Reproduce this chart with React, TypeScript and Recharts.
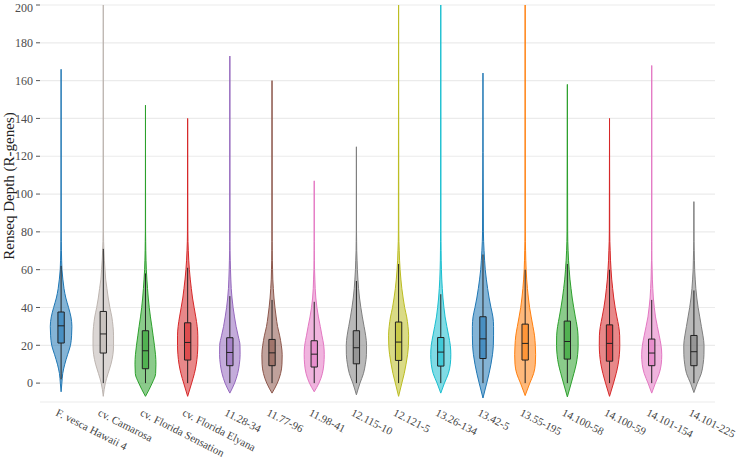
import React from "react";
import { Area, CartesianGrid, ComposedChart, ReferenceArea, ReferenceLine, XAxis, YAxis } from "recharts";

const categories = [
  "F. vesca Hawaii 4",
  "cv. Camarosa",
  "cv. Florida Sensation",
  "cv. Florida Elyana",
  "11.28-34",
  "11.77-96",
  "11.98-41",
  "12.115-10",
  "12.121-5",
  "13.26-134",
  "13.42-5",
  "13.55-195",
  "14.100-58",
  "14.100-59",
  "14.101-154",
  "14.101-225",
];

const colors = [
  "#1f77b4", "#bdb5b0", "#2ca02c", "#d62728", "#9467bd", "#8c564b", "#e377c2", "#7f7f7f",
  "#bcbd22", "#17becf", "#1f77b4", "#ff7f0e", "#2ca02c", "#d62728", "#e377c2", "#7f7f7f",
];

// box stats
const q1 = [21.2, 15.9, 7.6, 12.2, 9.2, 9.2, 8.5, 10.2, 12, 9, 13, 12.2, 12.7, 11.6, 9.2, 9.2];
const medians = [30.3, 26, 17.1, 21.5, 16.2, 16, 15.3, 18.7, 21.7, 16.4, 23.4, 21, 22, 21, 15.9, 16.6];
const q3 = [37.6, 37.9, 27.7, 31.9, 24, 23.1, 22.4, 27.7, 32.3, 24.1, 35.1, 31.2, 32.8, 30.8, 23.3, 25.2];
const whiskerLow = [2, 0, 0, 0, 0, 0, 0, 0, 0, 0, 0, 0, 0, 0, 0, 0];
const whiskerHigh = [62, 71, 58, 61, 46, 44, 43, 54, 63, 47, 68, 60, 63, 60, 44, 49];

// violin extent
const minValues = [-4.6, -7, -7, -7, -5.3, -5.3, -4.6, -6.2, -7, -5.3, -7.9, -6.6, -7.3, -7, -5.3, -5];
const maxValues = [166, 200, 147, 140, 173, 160, 107, 125, 200, 200, 164, 200, 158, 140, 168, 96];

// relative density at each depth
const depthGrid = [0, 5, 10, 15, 20, 25, 30, 35, 40, 45, 50, 55, 60, 65, 70, 75, 80];
const densities = [
  [0.07, 0.15, 0.34, 0.6, 0.87, 0.97, 1.0, 0.91, 0.69, 0.44, 0.27, 0.16, 0.08, 0.05, 0.03, 0.02, 0.01],
  [0.19, 0.44, 0.71, 0.89, 0.95, 0.95, 0.9, 0.79, 0.61, 0.46, 0.34, 0.22, 0.16, 0.1, 0.06, 0.03, 0.02],
  [0.62, 0.94, 0.97, 0.93, 0.83, 0.71, 0.59, 0.46, 0.35, 0.26, 0.19, 0.13, 0.08, 0.05, 0.03, 0.02, 0.01],
  [0.37, 0.62, 0.8, 0.9, 0.94, 0.94, 0.88, 0.75, 0.6, 0.45, 0.34, 0.24, 0.16, 0.1, 0.06, 0.03, 0.02],
  [0.44, 0.72, 0.88, 0.95, 0.94, 0.77, 0.58, 0.43, 0.3, 0.2, 0.13, 0.09, 0.06, 0.04, 0.02, 0.01, 0.01],
  [0.49, 0.79, 0.92, 0.94, 0.86, 0.71, 0.51, 0.38, 0.27, 0.18, 0.12, 0.07, 0.05, 0.03, 0.02, 0.01, 0.01],
  [0.44, 0.75, 0.89, 0.93, 0.88, 0.72, 0.56, 0.39, 0.25, 0.15, 0.09, 0.06, 0.03, 0.02, 0.01, 0.0, 0.0],
  [0.33, 0.65, 0.83, 0.93, 0.94, 0.86, 0.71, 0.55, 0.41, 0.29, 0.2, 0.14, 0.09, 0.06, 0.03, 0.02, 0.01],
  [0.3, 0.52, 0.69, 0.83, 0.91, 0.93, 0.87, 0.75, 0.56, 0.42, 0.3, 0.21, 0.14, 0.09, 0.06, 0.03, 0.02],
  [0.34, 0.7, 0.88, 0.93, 0.88, 0.73, 0.56, 0.4, 0.29, 0.2, 0.14, 0.09, 0.06, 0.04, 0.03, 0.02, 0.01],
  [0.35, 0.56, 0.74, 0.88, 0.96, 0.98, 0.98, 0.92, 0.74, 0.57, 0.43, 0.31, 0.21, 0.15, 0.1, 0.06, 0.04],
  [0.43, 0.78, 0.94, 0.97, 0.94, 0.87, 0.72, 0.56, 0.41, 0.3, 0.21, 0.14, 0.09, 0.06, 0.04, 0.02, 0.01],
  [0.36, 0.6, 0.82, 0.95, 1.0, 0.99, 0.9, 0.74, 0.59, 0.45, 0.34, 0.24, 0.17, 0.11, 0.07, 0.04, 0.03],
  [0.37, 0.61, 0.8, 0.91, 0.95, 0.94, 0.85, 0.68, 0.52, 0.39, 0.29, 0.2, 0.14, 0.09, 0.06, 0.03, 0.02],
  [0.34, 0.69, 0.88, 0.93, 0.86, 0.7, 0.52, 0.35, 0.24, 0.15, 0.1, 0.06, 0.04, 0.02, 0.01, 0.01, 0.0],
  [0.31, 0.68, 0.85, 0.93, 0.94, 0.84, 0.69, 0.54, 0.39, 0.27, 0.18, 0.12, 0.07, 0.05, 0.03, 0.01, 0.01],
];

const yTicks = [0, 20, 40, 60, 80, 100, 120, 140, 160, 180, 200];

const VIOLIN_HALF = 0.256;
const BOX_HALF = 0.075;
const FONT = "'Liberation Serif', 'DejaVu Serif', serif";

const violins = categories.map((_, i) => {
  const c = i + 0.5;
  const pts = [{ v: minValues[i], r: [c, c] }];
  depthGrid.forEach((v, j) => {
    const w = densities[i][j] * VIOLIN_HALF;
    pts.push({ v, r: [c - w, c + w] });
  });
  pts.push({ v: maxValues[i], r: [c, c] });
  return pts;
});

const CategoryTick = (props: any) => {
  const { x, y, payload } = props;
  const label = categories[Math.round(payload.value - 0.5)];
  return (
    <g transform={`translate(${x - 6},${y + 13})`}>
      <text transform="rotate(27)" textAnchor="start" fontSize={11} fill="#444" fontFamily={FONT}>
        {label}
      </text>
    </g>
  );
};

export default function App() {
  return (
    <div style={{ position: "absolute", left: 0, top: 0 }}>
      <ComposedChart
        width={739}
        height={461}
        layout="vertical"
        margin={{ top: 5, right: 24, bottom: 0, left: 0 }}
      >
        <CartesianGrid vertical={false} stroke="#ebebeb" strokeWidth={1.2} />
        <XAxis
          type="number"
          domain={[0, 16]}
          ticks={categories.map((_, i) => i + 0.5)}
          interval={0}
          axisLine={false}
          tickLine={false}
          tickSize={0}
          tickMargin={0}
          height={59}
          tick={<CategoryTick />}
          allowDataOverflow
        />
        <YAxis
          type="number"
          dataKey="v"
          domain={[-10, 200]}
          reversed
          ticks={yTicks}
          width={40}
          axisLine={false}
          tickSize={4}
          tickMargin={3}
          tickLine={{ stroke: "#555" }}
          tick={{ fontSize: 12, fill: "#4d4d4d", fontFamily: FONT }}
          allowDataOverflow
          label={{
            content: () => (
              <text
                x={14}
                y={186}
                transform="rotate(-90 14 186)"
                textAnchor="middle"
                fontSize={15}
                fill="#222"
                fontFamily={FONT}
              >
                Renseq Depth (R-genes)
              </text>
            ),
          }}
        />
        {violins.map((d, i) => (
          <Area
            key={categories[i]}
            data={d}
            dataKey="r"
            type="monotone"
            stroke={colors[i]}
            strokeWidth={1}
            fill={colors[i]}
            fillOpacity={0.55}
            dot={false}
            activeDot={false}
            isAnimationActive={false}
          />
        ))}
        {categories.map((name, i) => (
          <ReferenceLine
            key={`wl-${name}`}
            segment={[
              { x: i + 0.5, y: whiskerLow[i] },
              { x: i + 0.5, y: q1[i] },
            ]}
            stroke="#222"
            strokeWidth={1}
          />
        ))}
        {categories.map((name, i) => (
          <ReferenceLine
            key={`wh-${name}`}
            segment={[
              { x: i + 0.5, y: q3[i] },
              { x: i + 0.5, y: whiskerHigh[i] },
            ]}
            stroke="#222"
            strokeWidth={1}
          />
        ))}
        {categories.map((name, i) => (
          <ReferenceArea
            key={`box-${name}`}
            x1={i + 0.5 - BOX_HALF}
            x2={i + 0.5 + BOX_HALF}
            y1={q1[i]}
            y2={q3[i]}
            fill={colors[i]}
            fillOpacity={0.6}
            stroke="#222"
            strokeWidth={1}
          />
        ))}
        {categories.map((name, i) => (
          <ReferenceLine
            key={`med-${name}`}
            segment={[
              { x: i + 0.5 - BOX_HALF, y: medians[i] },
              { x: i + 0.5 + BOX_HALF, y: medians[i] },
            ]}
            stroke="#222"
            strokeWidth={1}
          />
        ))}
      </ComposedChart>
    </div>
  );
}
